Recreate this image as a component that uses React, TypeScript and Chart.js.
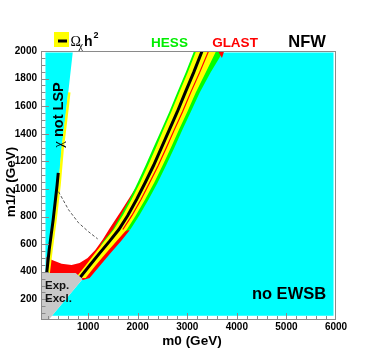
import { useEffect, useRef } from 'react';
import { Chart, registerables } from 'chart.js';

Chart.register(...registerables);

// Axis tick labels
const xTickValues = [1000, 2000, 3000, 4000, 5000, 6000];
const yTickValues = [200, 400, 600, 800, 1000, 1200, 1400, 1600, 1800, 2000];

// "no EWSB" region (m0, m1/2)
const cyanMainM0 = [271, 889, 1011, 1222, 1435, 1642, 1832, 2012, 2202, 2382, 2552, 2722, 2882, 3052, 3232, 3450, 3705, 5950, 5950];
const cyanMainM12 = [80, 348, 355, 445, 535, 620, 706, 808, 925, 1045, 1170, 1300, 1430, 1560, 1700, 1845, 1990, 1990, 80];

// "chi not LSP" region
const cyanStripM0 = [140, 690, 566, 465, 404, 323, 242, 181, 140];
const cyanStripM12 = [1990, 1990, 1590, 1285, 1030, 776, 558, 377, 377];

// Experimental exclusion
const exclM0 = [50, 750, 889, 202, 50];
const exclM12 = [391, 391, 348, 50, 50];

// GLAST sensitive region
const glastM0 = [2100, 1936, 1681, 1452, 1292, 1144, 990, 829, 667, 465, 262, 161, 161, 900, 1031, 1242, 1455, 1662, 1840, 1700];
const glastM12 = [1045, 994, 849, 725, 631, 558, 500, 464, 449, 457, 486, 508, 340, 340, 355, 445, 535, 620, 700, 706];
const glastTipM0 = [3620, 3745, 3700];
const glastTipM12 = [2000, 2000, 1950];
const glastLineM0 = [1700, 1885, 2070, 2240, 2415, 2580, 2740, 2905, 3070, 3250, 3430];
const glastLineM12 = [706, 808, 925, 1045, 1170, 1300, 1430, 1560, 1700, 1845, 2000];

// HESS sensitive region
const hessM0 = [3138, 2968, 2798, 2638, 2478, 2318, 2158, 1998, 1838, 1658, 1499, 1309, 1233, 1640, 1852, 2032, 2222, 2402, 2572, 2742, 2902, 3072, 3252, 3470, 3732];
const hessM12 = [2000, 1845, 1700, 1560, 1430, 1300, 1170, 1045, 925, 808, 706, 620, 587, 680, 706, 808, 925, 1045, 1170, 1300, 1430, 1560, 1700, 1845, 2000];

// Relic density band (Omega h^2)
const omegaBandM0 = [748, 949, 1142, 1329, 1519, 1699, 1879, 2049, 2209, 2369, 2519, 2679, 2839, 3009, 3179,
  3583, 3372, 3172, 3002, 2832, 2672, 2502, 2332, 2152, 1962, 1782, 1571, 1364, 1151, 950];
const omegaBandM12 = [355, 445, 535, 620, 706, 808, 925, 1045, 1170, 1300, 1430, 1560, 1700, 1845, 2000,
  2000, 1845, 1700, 1560, 1430, 1300, 1170, 1045, 925, 808, 706, 620, 535, 445, 355];
const omegaLineM0 = [790, 829, 1030, 1233, 1430, 1620, 1800, 1980, 2150, 2320, 2480, 2640, 2800, 2960, 3130, 3300];
const omegaLineM12 = [340, 355, 445, 535, 620, 706, 808, 925, 1045, 1170, 1300, 1430, 1560, 1700, 1845, 2000];

// Stau coannihilation strip
const stauYellowM0 = [200, 262, 343, 424, 485, 586, 620];
const stauYellowM12 = [377, 558, 776, 1030, 1285, 1590, 1700];
const stauBlackM0 = [150, 215, 295, 375, 398];
const stauBlackM12 = [340, 558, 776, 1030, 1117];

// Dashed contour
const dashedM0 = [404, 606, 808, 1011, 1193];
const dashedM12 = [980, 849, 754, 689, 638];

const pts = (xs: number[], ys: number[]) => xs.map((x, i) => ({ x, y: ys[i] }));

const FONT = '"Liberation Sans", Arial, Helvetica, sans-serif';
const SERIF = '"Liberation Serif", "DejaVu Serif", serif';

const polygon = (data: any[], color: string, order: number) => ({
  data,
  showLine: true,
  fill: 'shape',
  backgroundColor: color,
  borderColor: 'rgba(0,0,0,0)',
  borderWidth: 0,
  pointRadius: 0,
  clip: 0,
  order,
});

const curve = (data: any[], color: string, width: number, order: number, dash: number[] = []) => ({
  data,
  showLine: true,
  fill: false,
  borderColor: color,
  backgroundColor: color,
  borderWidth: width,
  borderDash: dash,
  pointRadius: 0,
  clip: 0,
  order,
});

const rootDecor = {
  id: 'rootDecor',
  afterDraw(chart: any) {
    const { ctx, chartArea: a, scales } = chart;
    const x = scales.x;
    const y = scales.y;
    ctx.save();
    // frame
    ctx.strokeStyle = '#8a8a8a';
    ctx.lineWidth = 1;
    ctx.strokeRect(a.left + 0.5, a.top + 0.5, a.right - a.left - 1, a.bottom - a.top - 1);
    // ticks
    ctx.beginPath();
    for (let v = 200; v < 6000; v += 200) {
      const px = Math.round(x.getPixelForValue(v)) + 0.5;
      const len = v % 1000 === 0 ? 6 : 3;
      ctx.moveTo(px, a.bottom - 1);
      ctx.lineTo(px, a.bottom - 1 - len);
    }
    for (let v = 100; v < 2000; v += 50) {
      const py = Math.round(y.getPixelForValue(v)) + 0.5;
      const len = v % 200 === 0 ? 7 : 3.5;
      ctx.moveTo(a.left + 1, py);
      ctx.lineTo(a.left + 1 + len, py);
    }
    ctx.stroke();

    ctx.fillStyle = '#000';
    ctx.textBaseline = 'alphabetic';
    // axis titles
    ctx.font = `bold 13.5px ${FONT}`;
    ctx.textAlign = 'center';
    ctx.fillText('m0 (GeV)', 192, 345);
    ctx.save();
    ctx.translate(15, 182);
    ctx.rotate(-Math.PI / 2);
    ctx.fillText('m1/2 (GeV)', 0, 0);
    ctx.restore();

    // legend: Omega h^2
    ctx.fillStyle = '#ffff00';
    ctx.fillRect(54, 32, 15, 15);
    ctx.fillStyle = '#000';
    ctx.fillRect(58, 39.5, 9, 3);
    ctx.textAlign = 'left';
    ctx.font = `14px ${SERIF}`;
    ctx.fillText('Ω', 70.5, 46);
    ctx.font = `10px ${SERIF}`;
    ctx.fillText('χ', 78.5, 49);
    ctx.font = `bold 14px ${FONT}`;
    ctx.fillText('h', 84, 46);
    ctx.font = `bold 9px ${FONT}`;
    ctx.fillText('2', 93.5, 38);

    ctx.textAlign = 'center';
    ctx.font = `bold 13.5px ${FONT}`;
    ctx.fillStyle = '#00ee00';
    ctx.fillText('HESS', 169.5, 47);
    ctx.fillStyle = '#ff0000';
    ctx.fillText('GLAST', 235, 47);
    ctx.fillStyle = '#000';
    ctx.font = `bold 16.5px ${FONT}`;
    ctx.fillText('NFW', 307, 46.5);

    ctx.fillText('no EWSB', 289, 299);

    // chi not LSP (rotated)
    ctx.save();
    ctx.translate(62.5, 115);
    ctx.rotate(-Math.PI / 2);
    ctx.textAlign = 'left';
    ctx.font = `15px ${SERIF}`;
    const wChi = ctx.measureText('χ').width;
    ctx.font = `bold 14.5px ${FONT}`;
    const wRest = ctx.measureText(' not LSP').width;
    const start = -(wChi + wRest) / 2;
    ctx.font = `15px ${SERIF}`;
    ctx.fillText('χ', start, 0);
    ctx.font = `bold 14.5px ${FONT}`;
    ctx.fillText(' not LSP', start + wChi, 0);
    ctx.restore();

    // Exp. Excl.
    ctx.textAlign = 'left';
    ctx.fillStyle = '#111';
    ctx.font = `bold 11.5px ${FONT}`;
    ctx.fillText('Exp.', 45, 289);
    ctx.fillText('Excl.', 45, 302);
    ctx.restore();
  },
};

export default function App() {
  const ref = useRef<HTMLCanvasElement | null>(null);
  useEffect(() => {
    if (!ref.current) return;
    const chart = new Chart(ref.current, {
      type: 'scatter',
      data: {
        datasets: [
          polygon(pts(cyanMainM0, cyanMainM12), '#00ffff', 20),
          polygon(pts(cyanStripM0, cyanStripM12), '#00ffff', 19),
          polygon(pts(glastM0, glastM12), '#ff0000', 18),
          polygon(pts(hessM0, hessM12), '#00ff00', 17),
          polygon(pts(glastTipM0, glastTipM12), '#ff0000', 16),
          polygon(pts(omegaBandM0, omegaBandM12), '#ffff00', 15),
          curve(pts(glastLineM0, glastLineM12), '#ff0000', 1.2, 14),
          curve(pts(omegaLineM0, omegaLineM12), '#000000', 3, 13),
          curve(pts(stauYellowM0, stauYellowM12), '#ffff00', 2.5, 12),
          curve(pts(stauBlackM0, stauBlackM12), '#000000', 3, 11),
          curve(pts(dashedM0, dashedM12), '#555555', 1, 10, [3, 2]),
          polygon(pts(exclM0, exclM12), '#c9c9c9', 9),
        ] as any,
      },
      options: {
        animation: false,
        responsive: false,
        devicePixelRatio: 1,
        layout: { padding: { top: 51, right: 38, left: 0, bottom: 0 } },
        plugins: { legend: { display: false }, tooltip: { enabled: false } },
        elements: { point: { radius: 0 }, line: { tension: 0 } },
        scales: {
          x: {
            type: 'linear',
            min: 50,
            max: 6000,
            grid: { display: false, drawTicks: false },
            border: { display: false },
            ticks: {
              autoSkip: false,
              maxRotation: 0,
              padding: 1,
              color: '#000',
              font: { family: FONT, weight: 'bold', size: 10 },
              callback: (v: any) => String(v),
            },
            afterBuildTicks: (s: any) => {
              s.ticks = xTickValues.map((v) => ({ value: v }));
            },
            afterFit: (s: any) => {
              s.height = 34;
            },
          },
          y: {
            type: 'linear',
            min: 50,
            max: 2000,
            grid: { display: false, drawTicks: false },
            border: { display: false },
            ticks: {
              autoSkip: false,
              padding: 4,
              color: '#000',
              font: { family: FONT, weight: 'bold', size: 10 },
              callback: (v: any) => String(v),
            },
            afterBuildTicks: (s: any) => {
              s.ticks = yTickValues.map((v) => ({ value: v }));
            },
            afterFit: (s: any) => {
              s.width = 41;
            },
          },
        },
      } as any,
      plugins: [rootDecor],
    });
    return () => chart.destroy();
  }, []);
  return (
    <div style={{ position: 'absolute', left: 0, top: 0, width: 374, height: 354, background: '#fff' }}>
      <canvas ref={ref} width={374} height={354} style={{ display: 'block' }} />
    </div>
  );
}
